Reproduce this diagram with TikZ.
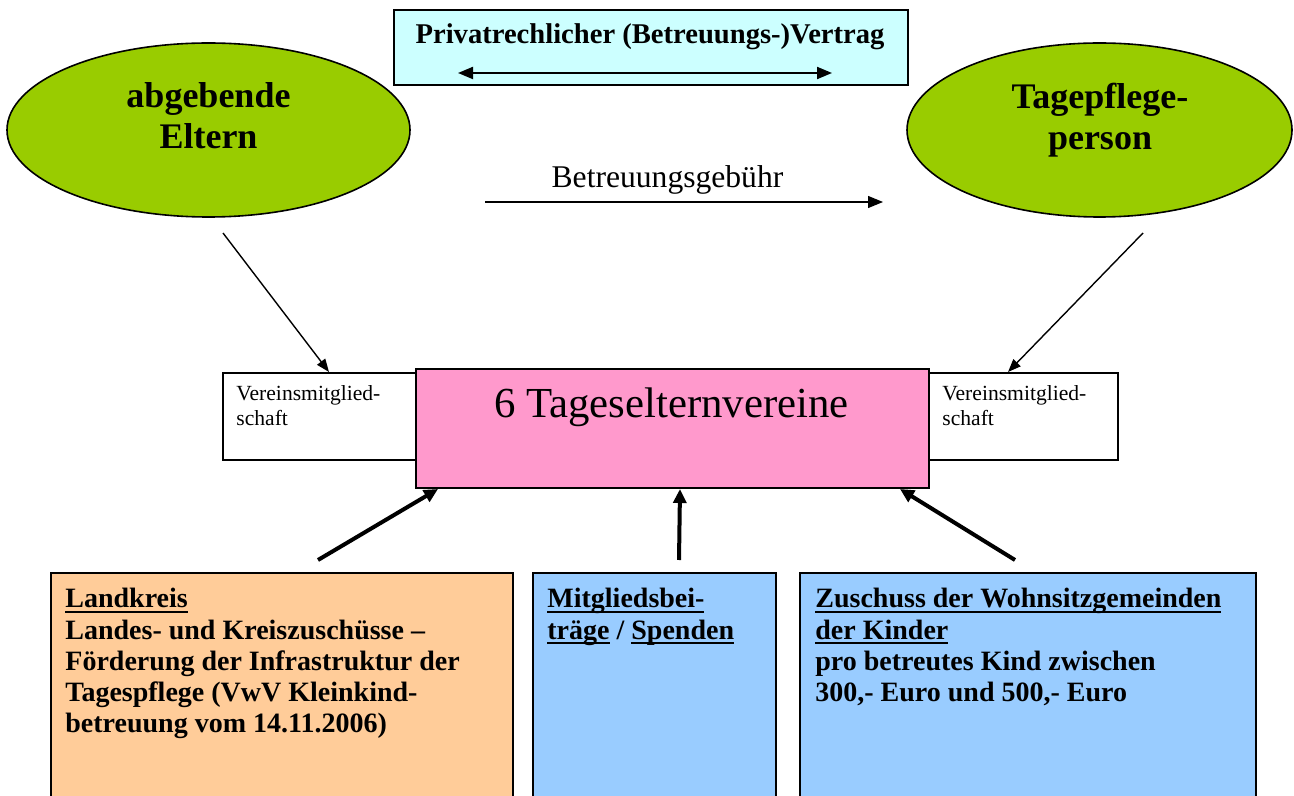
\documentclass[tikz,border=0pt]{standalone}
\usepackage{fontspec}
\setmainfont{Liberation Serif}
\usetikzlibrary{shapes.geometric,arrows.meta}
\definecolor{vertragblau}{HTML}{CCFFFF}
\definecolor{elterngruen}{HTML}{99CC00}
\definecolor{vereinrosa}{HTML}{FF99CC}
\definecolor{kreisorange}{HTML}{FFCC99}
\definecolor{beitragblau}{HTML}{99CCFF}
\newcommand{\schrift}[2]{\fontsize{#1}{#2}\selectfont}
\newsavebox{\unterbox}
\newcommand{\unter}[1]{\sbox{\unterbox}{#1}\rlap{\rule[-2.5pt]{\wd\unterbox}{1pt}}\usebox{\unterbox}}

\begin{document}
\begin{tikzpicture}[x=0.5pt,y=-0.5pt,
  kasten/.style={draw,line width=1pt,anchor=north west,inner sep=0pt},
  partei/.style={ellipse,draw,line width=0.8pt,fill=elterngruen,inner sep=0pt,minimum height=87pt},
  parteitext/.style={anchor=north,inner sep=0pt,align=center,font=\schrift{18}{20.5}\bfseries},
  klein/.style={anchor=north west,inner sep=0pt,align=left,font=\schrift{10.8}{12.5}},
  geldtext/.style={anchor=north west,inner sep=0pt,align=left,font=\schrift{14}{15.6}\bfseries},
  duenn/.style={line width=0.7pt,-{Triangle[length=6.5pt,width=5pt]}},
  dick/.style={line width=2pt,-{Triangle[length=7pt,width=6.5pt]}}]
\useasboundingbox (0,0) rectangle (1294,796);
% Vertrag oben
\node[kasten,fill=vertragblau,minimum width=257pt,minimum height=37.5pt] (vt) at (393,9) {};
\node[anchor=base,font=\schrift{14.3}{16}\bfseries] (vt-text) at (650,44) {Privatrechlicher (Betreuungs-)Vertrag};
\coordinate (vt-l) at (458,73);
\coordinate (vt-r) at (832,73);
\draw[line width=1pt,{Triangle[length=7.5pt,width=6pt]}-{Triangle[length=7.5pt,width=6pt]}] (vt-l) -- (vt-r);
% Eltern und Tagespflegeperson
\node[partei,minimum width=201.5pt] (el) at (208.5,130) {};
\node[parteitext] (el-text) at (208.5,82.5) {abgebende\\Eltern};
\node[partei,minimum width=192.5pt] (tp) at (1099.5,130) {};
\node[parteitext] (tp-text) at (1100,82.5) {Tagepflege-\\person};
% Gebuehr
\node[anchor=base,font=\schrift{15.8}{18}] (bg) at (667.5,188) {Betreuungsgebühr};
\coordinate (bg-l) at (485,202);
\coordinate (bg-r) at (883,202);
\draw[line width=0.6pt,-{Triangle[length=7.5pt,width=6pt]}] (bg-l) -- (bg-r);
% Vereinsmitgliedschaft
\node[kasten,fill=white,minimum width=96.5pt,minimum height=43.5pt] (vl) at (222,372) {};
\node[klein] (vl-text) at (236,385) {Vereinsmitglied-\\schaft};
\node[kasten,fill=white,minimum width=94.5pt,minimum height=43.5pt] (vr) at (928,372) {};
\node[klein] (vr-text) at (942,385) {Vereinsmitglied-\\schaft};
% Tageselternvereine
\node[kasten,fill=vereinrosa,minimum width=256.5pt,minimum height=59.5pt] (tv) at (415,368) {};
\node[anchor=base,font=\schrift{21.4}{24}] (tv-text) at (671.5,417) {6 Tageselternvereine};
\coordinate (el-fuss) at (223,233);
\coordinate (tp-fuss) at (1143,233);
\draw[duenn] (el-fuss) -- ([xshift=4.75pt]vl.north);
\draw[duenn] (tp-fuss) -- ([xshift=-7.75pt]vr.north);
% Finanzierung unten
\node[kasten,fill=kreisorange,minimum width=231pt,minimum height=119pt] (lk) at (50,572) {};
\node[geldtext] (lk-text) at (65,588) {\unter{Landkreis}\\Landes- und Kreiszuschüsse –\\Förderung der Infrastruktur der\\Tagespflege (VwV Kleinkind-\\betreuung vom 14.11.2006)};
\node[kasten,fill=beitragblau,minimum width=121.5pt,minimum height=119pt] (mb) at (532,572) {};
\node[geldtext] (mb-text) at (547,588) {\unter{Mitgliedsbei-}\\\unter{träge} / \unter{Spenden}};
\node[kasten,fill=beitragblau,minimum width=228pt,minimum height=119pt] (zw) at (799,572) {};
\node[geldtext] (zw-text) at (815,588) {\unter{Zuschuss der Wohnsitzgemeinden}\\\unter{der Kinder}\\pro betreutes Kind zwischen\\300,- Euro und 500,- Euro};
\coordinate (lk-kopf) at (318,560);
\coordinate (mb-kopf) at (679,560);
\coordinate (zw-kopf) at (1015,560);
\draw[dick] (lk-kopf) -- ([xshift=11.5pt]tv.south west);
\draw[dick] (mb-kopf) -- ([xshift=3.75pt]tv.south);
\draw[dick] (zw-kopf) -- ([xshift=-15pt]tv.south east);
\end{tikzpicture}
\end{document}
